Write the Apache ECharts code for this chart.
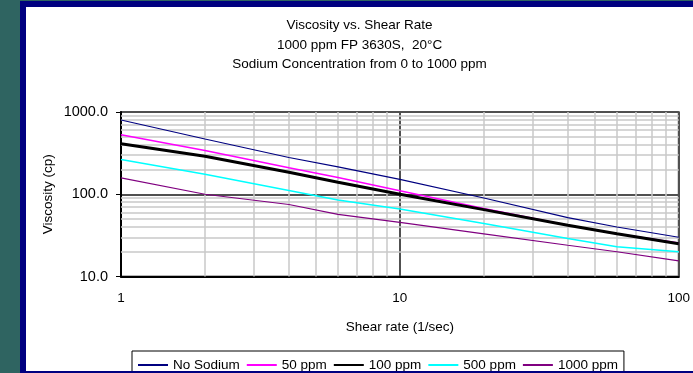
<!DOCTYPE html>
<html>
<head>
<meta charset="utf-8">
<style>
  html, body { margin: 0; padding: 0; }
  body { width: 693px; height: 373px; background: #2f6461; position: relative; overflow: hidden; }
  #frame { position: absolute; left: 20px; top: 1px; width: 700px; height: 372px; background: #000080; }
  #chart { position: absolute; left: 26px; top: 7px; width: 667px; height: 364px; background: #fff; }
</style>
<script src="https://cdn.jsdelivr.net/npm/echarts@6/dist/echarts.min.js"></script>
</head>
<body>
<div id="frame"></div>
<div id="chart"></div>
<script>
// shear rate (1/sec)
var shearRate = [1, 2, 4, 6, 10, 20, 40, 60, 100]
// viscosity (cp) for each sodium concentration
var noSodium = [800, 470, 280, 215, 152, 90, 52, 40, 30]
var ppm50 = [530, 340, 210, 160, 110, 67, 42, 33, 25.5]
var ppm100 = [410, 290, 185, 140, 100, 65, 42, 33, 25]
var ppm500 = [264, 175, 111, 85, 66, 44, 29, 23, 20]
var ppm1000 = [158, 100, 75, 57, 45.5, 33, 24, 20, 15.5]

var seriesNames = ['No Sodium', '50 ppm', '100 ppm', '500 ppm', '1000 ppm']
var seriesColors = ['#000080', '#ff00ff', '#000000', '#00ffff', '#800080']
var seriesWidths = [1.2, 1.5, 3, 1.5, 1.2]
var seriesValues = [noSodium, ppm50, ppm100, ppm500, ppm1000]

// minor grid lines
var xMinor = [2, 3, 4, 5, 6, 7, 8, 9, 20, 30, 40, 50, 60, 70, 80, 90]
var yMinor = [20, 30, 40, 50, 60, 70, 80, 90, 200, 300, 400, 500, 600, 700, 800, 900]

var font = 'Liberation Sans, Arial, sans-serif'

var myChart = echarts.init(document.getElementById('chart'))

var series = [
  // minor grid
  {
    name: 'grid',
    type: 'line',
    data: [],
    silent: true,
    markLine: {
      silent: true,
      symbol: 'none',
      label: { show: false },
      emphasis: { disabled: true },
      animation: false,
      lineStyle: { color: '#c8c8c8', width: 1.5, type: 'solid' },
      data: xMinor.map(function (v) { return { xAxis: v } })
        .concat(yMinor.map(function (v) { return { yAxis: v } }))
    }
  }
]
seriesValues.forEach(function (vals, i) {
  series.push({
    name: seriesNames[i],
    type: 'line',
    z: 10,
    symbol: 'none',
    showSymbol: false,
    color: seriesColors[i],
    itemStyle: { opacity: 0 },
    lineStyle: { color: seriesColors[i], width: seriesWidths[i] },
    data: shearRate.map(function (x, j) { return [x, vals[j]] })
  })
})

var option = {
  animation: false,
  textStyle: { fontFamily: font, color: '#000' },
  title: {
    text: 'Viscosity vs. Shear Rate\n1000 ppm FP 3630S,  20°C\nSodium Concentration from 0 to 1000 ppm',
    left: 'center',
    top: 4,
    textStyle: { fontFamily: font, fontSize: 13.5, fontWeight: 'normal', color: '#000', lineHeight: 19.5 }
  },
  legend: {
    data: seriesNames,
    left: 106,
    top: 344,
    width: 490,
    padding: [7, 6, 10, 5],
    itemWidth: 30,
    itemHeight: 14,
    itemGap: 6,
    itemStyle: { opacity: 0 },
    backgroundColor: '#fff',
    borderColor: '#000',
    borderWidth: 1,
    borderRadius: 0,
    textStyle: { fontFamily: font, fontSize: 13.5, color: '#000' }
  },
  grid: {
    show: true,
    left: 95,
    right: 10,
    top: 105,
    bottom: 94.5,
    borderColor: '#707070',
    borderWidth: 2,
    backgroundColor: '#fff'
  },
  xAxis: {
    type: 'log',
    logBase: 10,
    min: 1,
    max: 100,
    name: 'Shear rate (1/sec)',
    nameLocation: 'middle',
    nameGap: 44,
    nameMoveOverlap: false,
    nameTextStyle: { fontFamily: font, fontSize: 13.5, color: '#000' },
    axisLine: { show: true, lineStyle: { color: '#000', width: 2 } },
    axisTick: { show: false },
    axisLabel: { margin: 15, fontSize: 13.5, color: '#000', fontFamily: font },
    splitLine: { show: true, lineStyle: { color: '#505050', width: 2 } }
  },
  yAxis: {
    type: 'log',
    logBase: 10,
    min: 10,
    max: 1000,
    name: 'Viscosity (cp)',
    nameLocation: 'middle',
    nameGap: 66,
    nameMoveOverlap: false,
    nameTextStyle: { fontFamily: font, fontSize: 13.5, color: '#000' },
    axisLine: { show: true, lineStyle: { color: '#000', width: 2 } },
    axisTick: { show: true, inside: false, length: 5, lineStyle: { color: '#000' } },
    axisLabel: {
      margin: 13,
      fontSize: 14.5,
      color: '#000',
      fontFamily: font,
      formatter: function (v) { return Number(v).toFixed(1) }
    },
    splitLine: { show: true, lineStyle: { color: '#505050', width: 2 } }
  },
  series: series
}

myChart.setOption(option)
window.onresize = myChart.resize
</script>
</body>
</html>
